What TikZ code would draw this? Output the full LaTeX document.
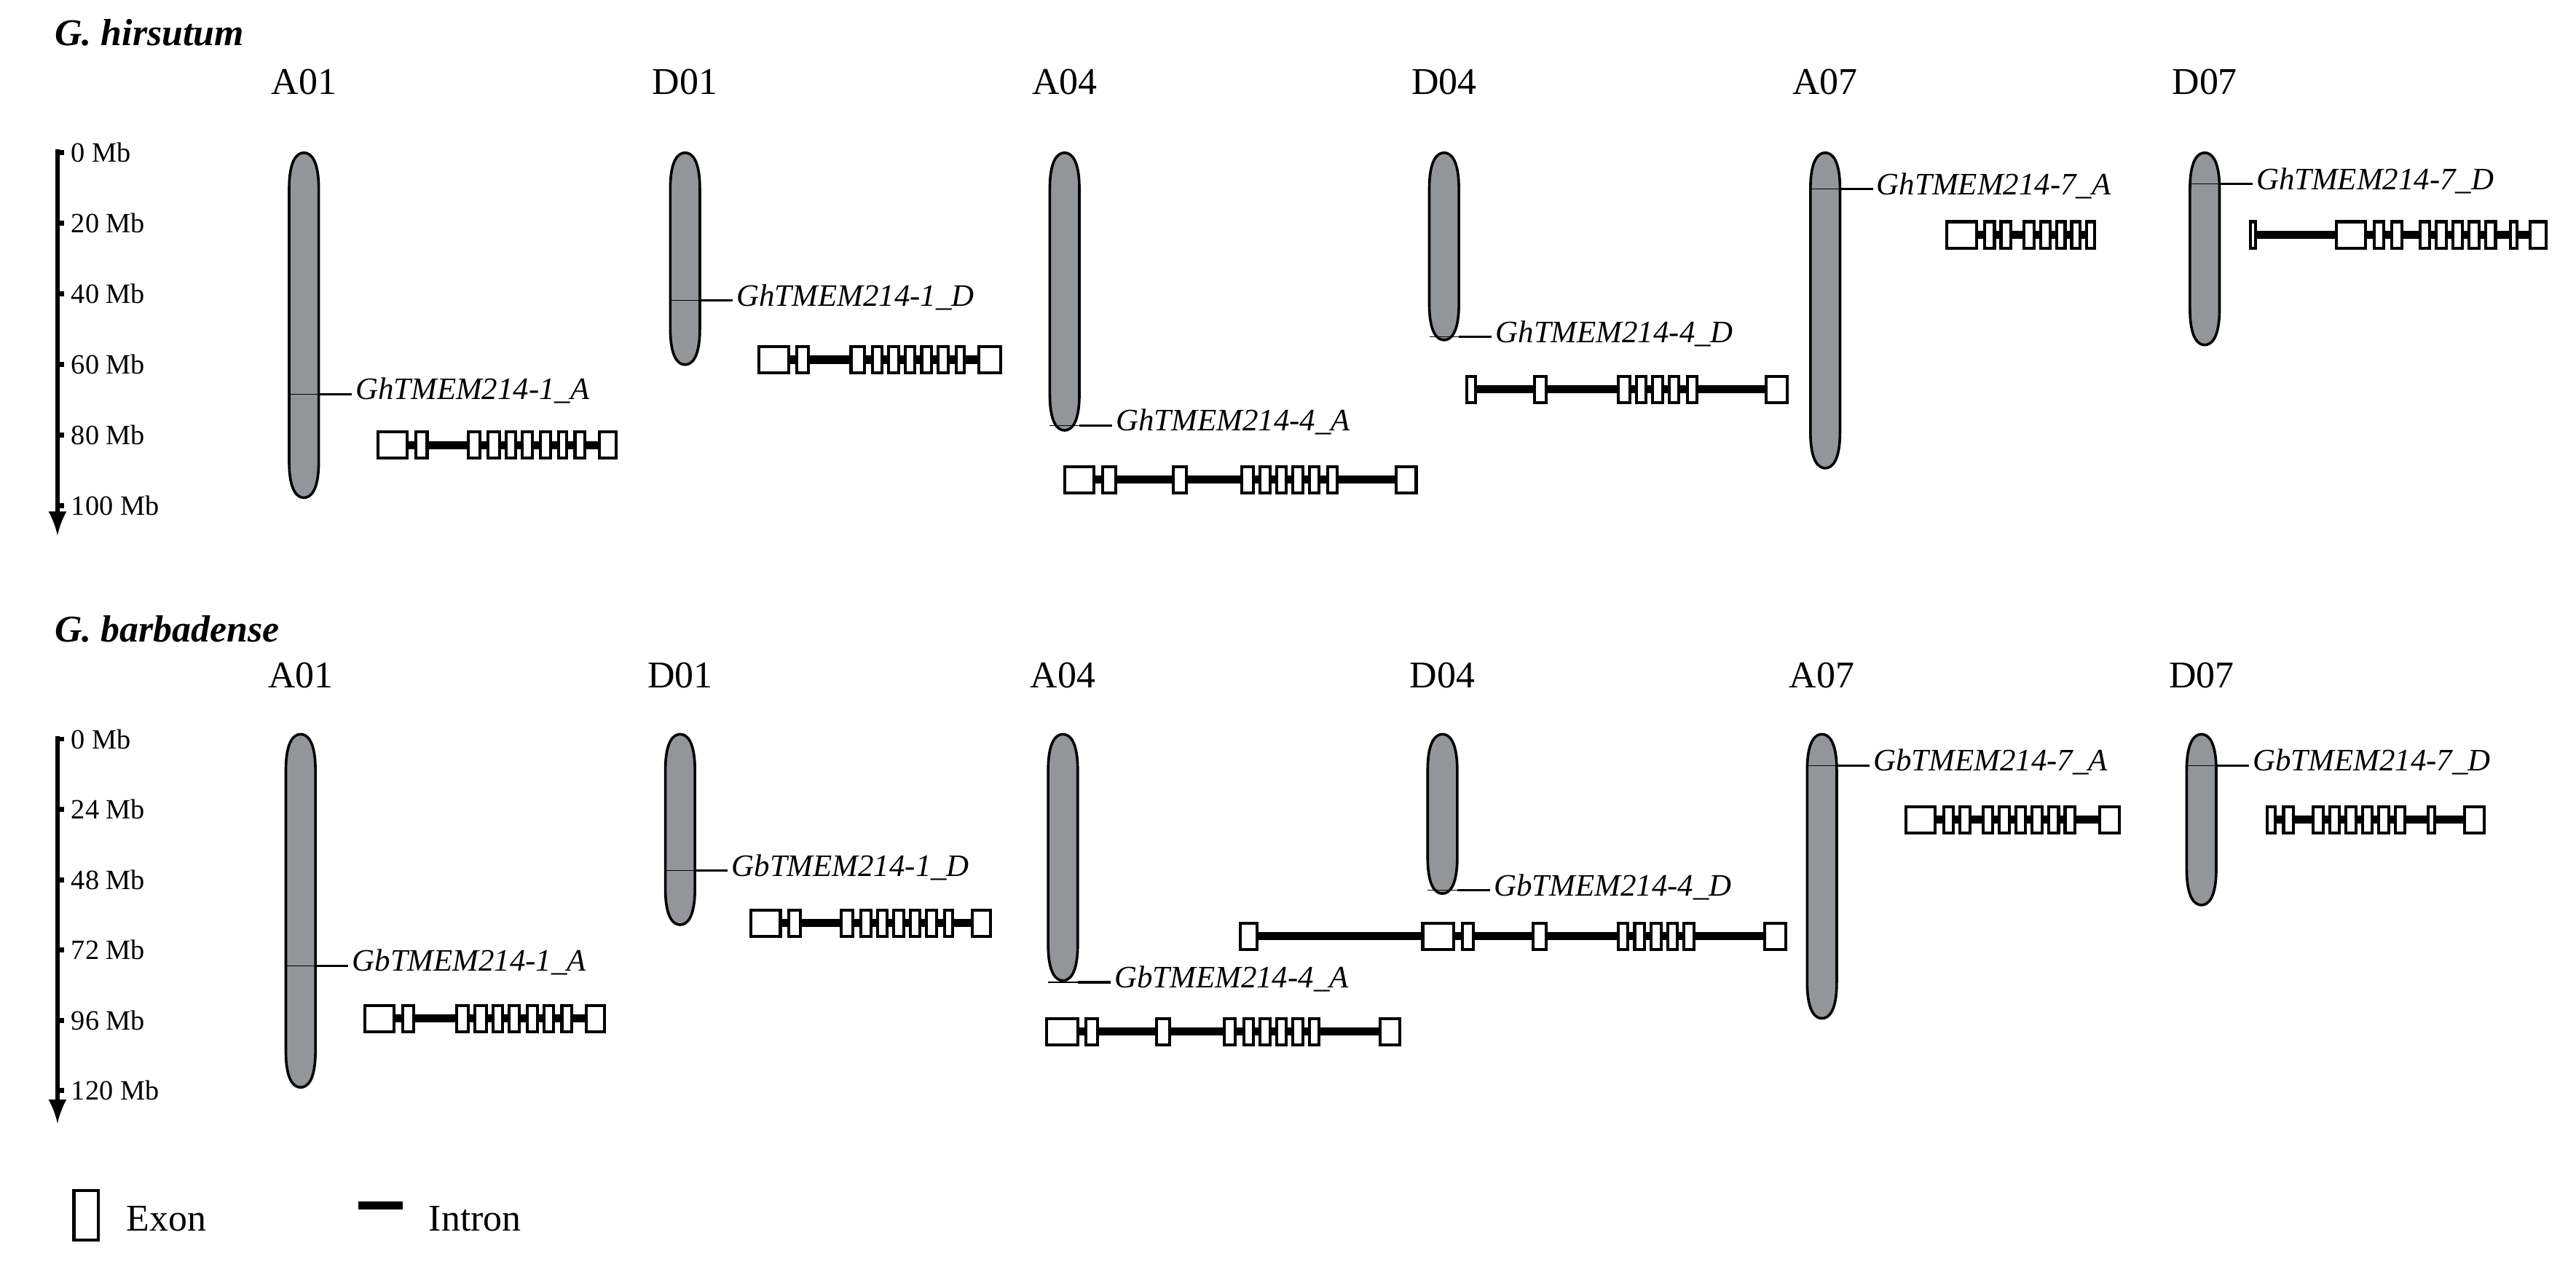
\documentclass[tikz,border=0pt]{standalone}
\usepackage{fontspec}
\setmainfont{Liberation Serif}
\usetikzlibrary{positioning, arrows}
\definecolor{chromgray}{RGB}{146,150,155}

\tikzset{
  chrom/.style={draw, line width=.8pt, fill=chromgray},
  cmark/.style={line width=.3pt},
  lead/.style={line width=.7pt},
  glabel/.style={anchor=west, inner sep=1pt, font=\fontsize{9.5}{10}\selectfont\itshape},
  chrname/.style={font=\fontsize{11.5}{12}\selectfont},
  mb/.style={anchor=west, inner sep=1pt, font=\fontsize{8.5}{9}\selectfont},
  title/.style={anchor=west, inner sep=0pt, font=\fontsize{11.5}{12}\selectfont\bfseries\itshape},
  intron/.style={line width=2.5pt},
  exon/.style={draw, line width=.9pt, fill=white},
}
% gene model: y, start, end, exons
\newcommand{\gmodel}[4]{%
  \draw[intron] (#2,#1) -- (#3,#1);
  \foreach \a/\b in {#4} \draw[exon] (\a,#1-8) rectangle (\b,#1+8);}
% chromosome with gene: name, cx, top, bottom, mark y, label
\newcommand{\chromo}[6]{%
  \draw[chrom] (#2-9,#3+22) .. controls (#2-9,#3+4) and (#2-4,#3) .. (#2,#3)
    .. controls (#2+4,#3) and (#2+9,#3+4) .. (#2+9,#3+22) -- (#2+9,#4-22)
    .. controls (#2+9,#4-4) and (#2+4,#4) .. (#2,#4)
    .. controls (#2-4,#4) and (#2-9,#4-4) .. (#2-9,#4-22) -- cycle;
  \node[glabel] (g#1) at (#2+29,#5-2) {#6};
  \coordinate (m#1) at (#2+9,#5);
  \draw[cmark] (#2-9,#5) -- (m#1);
  \draw[lead] (m#1) -- (m#1 -| g#1.west);}

\begin{document}
\begin{tikzpicture}[x=0.5pt, y=-0.5pt]
\useasboundingbox (0,0) rectangle (1568,771);

%% G. hirsutum
\node[title] (th) at (33,20) {G. hirsutum};
\foreach \n/\x in {A01/185, D01/417, A04/648, D04/879, A07/1111, D07/1342}
  \node[chrname] (h\n) at (\x,50) {\n};
\draw[line width=1.5pt, -latex] (35,91) -- (35,326);
\foreach \v [count=\i from 0] in {0,20,40,60,80,100}{
  \draw[line width=1.5pt] (35,93+43*\i) -- (39,93+43*\i);
  \node[mb] (mh\i) at (41,93+43*\i) {\v\ Mb};}
\chromo{hA01}{185}{93}{303}{240}{GhTMEM214-1\_A}
\chromo{hD01}{417}{93}{222}{183}{GhTMEM214-1\_D}
\chromo{hA04}{648}{93}{262}{259}{GhTMEM214-4\_A}
\chromo{hD04}{879}{93}{207}{205}{GhTMEM214-4\_D}
\chromo{hA07}{1111}{93}{285}{115}{GhTMEM214-7\_A}
\chromo{hD07}{1342}{93}{210}{112}{GhTMEM214-7\_D}
\gmodel{271}{230}{375}{230/248, 253/260, 285/292, 297/304, 308/314, 318/324, 329/335, 340/345, 350/356, 365/375}
\gmodel{219}{462}{609}{462/480, 485/492, 518/526, 531/537, 541/547, 551/557, 561/567, 571/577, 582/587, 596/609}
\gmodel{292}{648}{862}{648/666, 671/679, 714/722, 756/763, 767/773, 777/783, 787/793, 797/803, 808/814, 850/862}
\gmodel{237}{893}{1088}{893/898, 934/941, 985/992, 996/1002, 1006/1012, 1016/1022, 1027/1033, 1075/1088}
\gmodel{143}{1185}{1275}{1185/1203, 1208/1214, 1218/1224, 1232/1238, 1242/1248, 1252/1257, 1261/1266, 1270/1275}
\gmodel{143}{1370}{1550}{1370/1373, 1422/1440, 1445/1451, 1456/1462, 1473/1479, 1483/1489, 1493/1499, 1503/1509, 1513/1519, 1528/1532, 1540/1550}

%% G. barbadense
\node[title] (tb) at (33,383) {G. barbadense};
\foreach \n/\x in {A01/183, D01/414, A04/647, D04/878, A07/1109, D07/1340}
  \node[chrname] (b\n) at (\x,411) {\n};
\draw[line width=1.5pt, -latex] (35,448) -- (35,684);
\foreach \v [count=\i from 0] in {0,24,48,72,96,120}{
  \draw[line width=1.5pt] (35,450+42.8*\i) -- (39,450+42.8*\i);
  \node[mb] (mb\i) at (41,450+42.8*\i) {\v\ Mb};}
\chromo{bA01}{183}{447}{662}{588}{GbTMEM214-1\_A}
\chromo{bD01}{414}{447}{563}{530}{GbTMEM214-1\_D}
\chromo{bA04}{647}{447}{597}{598}{GbTMEM214-4\_A}
\chromo{bD04}{878}{447}{544}{542}{GbTMEM214-4\_D}
\chromo{bA07}{1109}{447}{620}{466}{GbTMEM214-7\_A}
\chromo{bD07}{1340}{447}{551}{466}{GbTMEM214-7\_D}
\gmodel{620}{222}{368}{222/240, 245/252, 278/285, 289/296, 300/306, 310/316, 321/327, 331/337, 342/348, 357/368}
\gmodel{562}{457}{603}{457/475, 480/487, 512/519, 524/530, 534/540, 544/550, 554/560, 564/570, 575/580, 592/603}
\gmodel{628}{637}{852}{637/656, 661/668, 704/712, 745/752, 757/763, 767/773, 777/783, 787/793, 797/803, 840/852}
\gmodel{570}{755}{1087}{755/765, 866/885, 890/897, 933/941, 985/991, 995/1001, 1005/1011, 1015/1021, 1025/1031, 1074/1087}
\gmodel{499}{1160}{1290}{1160/1178, 1183/1189, 1193/1199, 1207/1213, 1217/1223, 1227/1233, 1237/1243, 1247/1253, 1257/1263, 1278/1290}
\gmodel{499}{1380}{1512}{1380/1385, 1390/1396, 1408/1414, 1418/1424, 1428/1434, 1438/1444, 1448/1454, 1458/1464, 1478/1482, 1500/1512}

%% legend
\draw[exon] (45,725) rectangle (60,755);
\node[chrname, anchor=west] (lexon) at (70,742) {Exon};
\draw[intron] (218,734) -- (245,734);
\node[chrname, anchor=west] (lintron) at (254,742) {Intron};
\end{tikzpicture}
\end{document}
